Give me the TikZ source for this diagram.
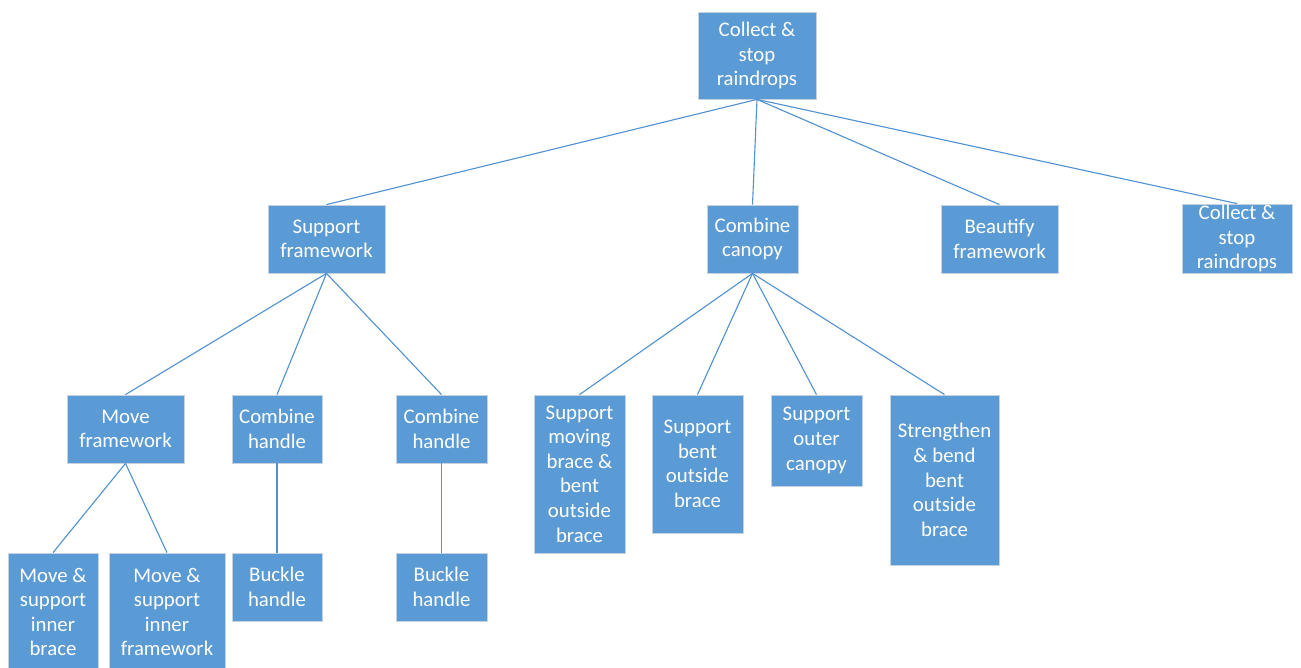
\documentclass[tikz,border=0pt]{standalone}
\usepackage{fontspec}
\setmainfont{Carlito}
\definecolor{boxfill}{RGB}{91,155,213}
\definecolor{boxline}{RGB}{200,210,222}
\definecolor{edgecol}{RGB}{80,145,210}
\begin{document}
\begin{tikzpicture}[x=1pt,y=-1pt,
  box/.style={rectangle, fill=boxfill, draw=boxline, line width=0.8pt, inner sep=0pt,
    text=white, align=center, font=\fontsize{20.8}{24.6}\selectfont},
  edge/.style={draw=edgecol, line width=1.1pt}]
\useasboundingbox (0,0) rectangle (1301,668);
\fill[white] (0,0) rectangle (1301,668);
% level 0
\node[box, minimum width=118pt, minimum height=87pt] (root) at (757,55.5) {Collect \&\\stop\\raindrops};
% level 1
\node[box, minimum width=117pt, minimum height=68pt] (sf) at (326.5,239) {Support\\framework};
\node[box, minimum width=91pt, minimum height=68pt] (cc) at (752.5,239) {Combine\\canopy};
\node[box, minimum width=117pt, minimum height=68pt] (bf) at (999.5,239) {Beautify\\framework};
\node[box, minimum width=110pt, minimum height=69pt] (cs) at (1237,238.5) {Collect \&\\stop\\raindrops};
% level 2
\node[box, minimum width=117pt, minimum height=68pt] (mf) at (125.5,429) {Move\\framework};
\node[box, minimum width=90pt, minimum height=68pt] (ch1) at (277,429) {Combine\\handle};
\node[box, minimum width=91pt, minimum height=68pt] (ch2) at (441.5,429) {Combine\\handle};
\node[box, minimum width=91pt, minimum height=158pt] (smb) at (579.5,474) {Support\\moving\\brace \&\\bent\\outside\\brace};
\node[box, minimum width=91pt, minimum height=138pt] (sbo) at (697.5,464) {Support\\bent\\outside\\brace};
\node[box, minimum width=91pt, minimum height=91pt] (soc) at (816.5,440.5) {Support\\outer\\canopy};
\node[box, minimum width=109pt, minimum height=170pt] (sbb) at (944.5,480) {Strengthen\\\& bend\\bent\\outside\\brace};
% level 3
\node[box, minimum width=90pt, minimum height=118pt] (msb) at (53,612) {Move \&\\support\\inner\\brace};
\node[box, minimum width=116pt, minimum height=118pt] (msf) at (167,612) {Move \&\\support\\inner\\framework};
\node[box, minimum width=90pt, minimum height=68pt] (bh1) at (277,587) {Buckle\\handle};
\node[box, minimum width=91pt, minimum height=68pt] (bh2) at (441.5,587) {Buckle\\handle};
% connectors
\draw[edge] (root.south) -- (sf.north);
\draw[edge] (root.south) -- (cc.north);
\draw[edge] (root.south) -- (bf.north);
\draw[edge] (root.south) -- (cs.north);
\draw[edge] (sf.south) -- (mf.north);
\draw[edge] (sf.south) -- (ch1.north);
\draw[edge] (sf.south) -- (ch2.north);
\draw[edge] (cc.south) -- (smb.north);
\draw[edge] (cc.south) -- (sbo.north);
\draw[edge] (cc.south) -- (soc.north);
\draw[edge] (cc.south) -- (sbb.north);
\draw[edge] (mf.south) -- (msb.north);
\draw[edge] (mf.south) -- (msf.north);
\draw[edge] (ch1.south) -- (bh1.north);
\draw[edge] (ch2.south) -- (bh2.north);
\end{tikzpicture}
\end{document}
